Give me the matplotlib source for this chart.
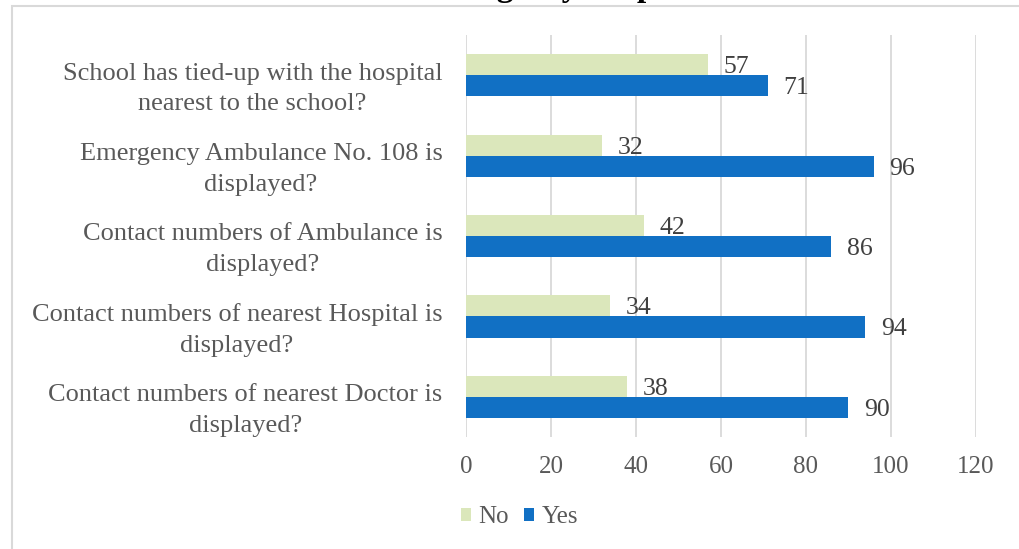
import matplotlib.pyplot as plt
from matplotlib.patches import Rectangle
import numpy as np

# questions, top to bottom
questions = ['School has tied-up with the hospital\nnearest to the school?',
             'Emergency Ambulance No. 108 is\ndisplayed?',
             'Contact numbers of Ambulance is\ndisplayed?',
             'Contact numbers of nearest Hospital is\ndisplayed?',
             'Contact numbers of nearest Doctor is\ndisplayed?']
no_vals = [57, 32, 42, 34, 38]
yes_vals = [71, 96, 86, 94, 90]
xticks = [0, 20, 40, 60, 80, 100, 120]

plt.rcParams['font.family'] = ['Liberation Serif', 'DejaVu Serif']
txt_col = '#595959'
no_col = '#dbe7bb'
yes_col = '#1170c4'

fig = plt.figure(figsize=(10.19, 5.49), dpi=100)
ax = fig.add_axes([0.4573, 0.204, 0.5005, 0.732])

y_pos = np.arange(len(questions))
h = 0.262
ax.barh(y_pos - h / 2, no_vals, height=h, color=no_col, label='No', zorder=2)
ax.barh(y_pos + h / 2, yes_vals, height=h, color=yes_col, label='Yes', zorder=2)

for i in range(len(questions)):
    ax.text(no_vals[i] + 3.6, y_pos[i] - h / 2 + 0.03, str(no_vals[i]), ha='left',
            va='center', fontsize=18.5, color='#404040')
    ax.text(yes_vals[i] + 3.6, y_pos[i] + h / 2 + 0.03, str(yes_vals[i]), ha='left',
            va='center', fontsize=18.5, color='#404040')

ax.set_xlim(0, 120)
ax.set_ylim(len(questions) - 0.5, -0.5)
ax.set_xticks(xticks)
ax.set_xticklabels([str(t) for t in xticks], fontsize=18, color=txt_col)
# excel puts the wrapped labels a little below the group centre
ax.set_yticks(y_pos + 0.085)
ax.set_yticklabels(questions, fontsize=19, color=txt_col,
                   multialignment='center', linespacing=1.5)
ax.tick_params(axis='both', length=0)
ax.tick_params(axis='y', pad=17)
ax.tick_params(axis='x', pad=14)
ax.xaxis.grid(True, color='#d9d9d9', linewidth=1.3, zorder=0)
for s in ax.spines.values():
    s.set_visible(False)

ax.legend(loc='center', bbox_to_anchor=(0.510, 0.058), bbox_transform=fig.transFigure,
          ncol=2, frameon=False, fontsize=18, handlelength=0.4, handleheight=0.4,
          handletextpad=0.3, columnspacing=0.6, labelcolor=txt_col)

# title is clipped off at the top of the picture
fig.text(0.552, 1.008, 'Emergency Helpline', ha='center', va='baseline',
         fontsize=24, fontweight='bold', color='black')

fig.patches.append(Rectangle((12 / 1019, -0.1), 1.2, 1 - 6 / 549 + 0.1,
                             transform=fig.transFigure, fill=False,
                             edgecolor='#d9d9d9', linewidth=1.5))

plt.savefig('out.png', dpi=100)
